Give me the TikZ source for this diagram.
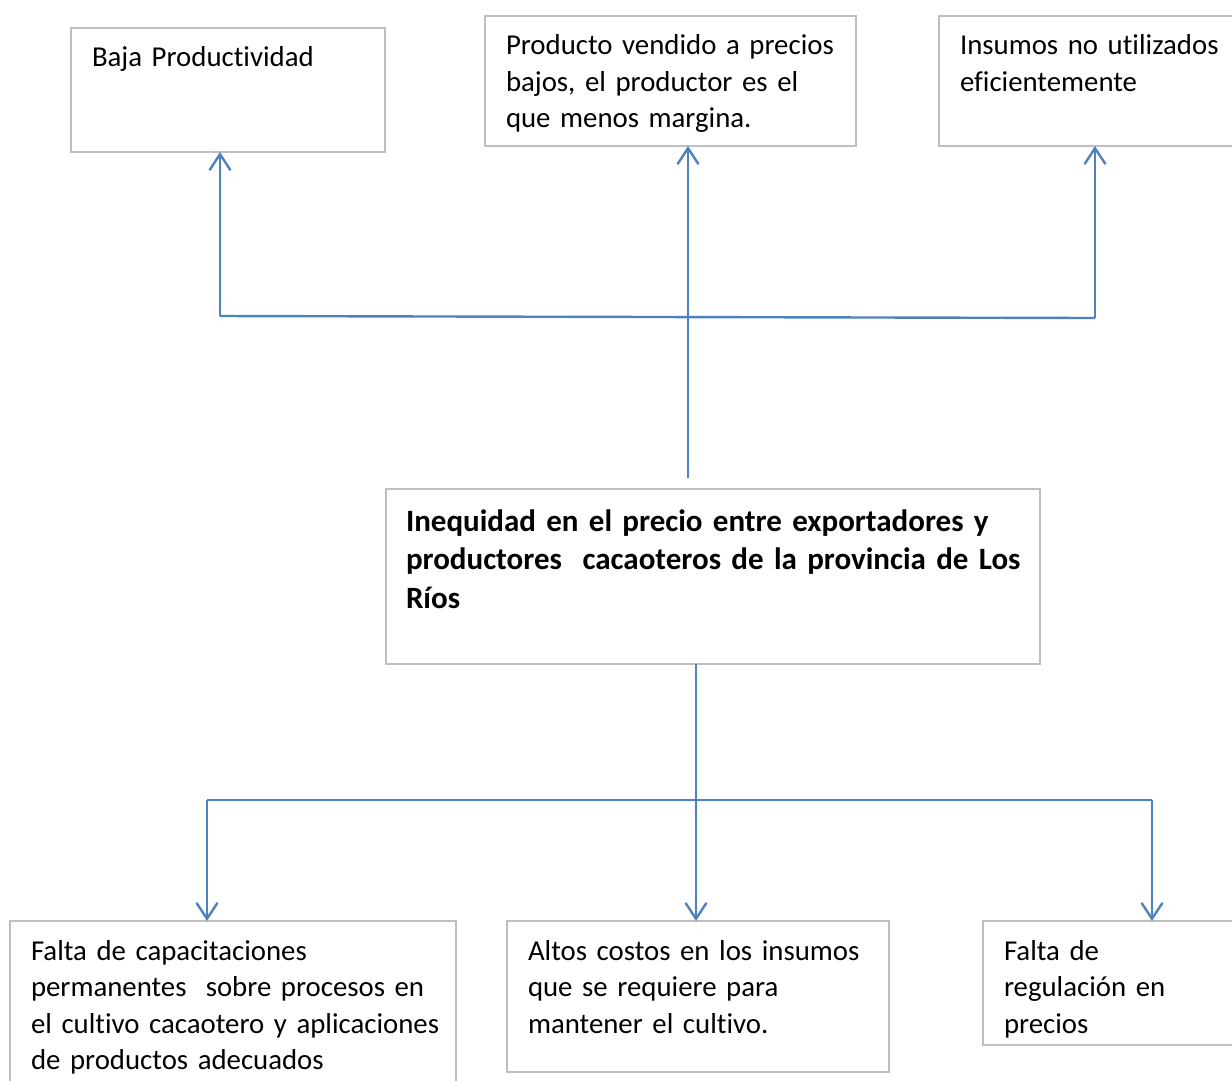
\documentclass[tikz,border=0pt]{standalone}
\usepackage{fontspec}
\setmainfont{Carlito}[Ligatures=NoCommon]
\usetikzlibrary{arrows.meta}
\definecolor{linkblue}{HTML}{4F81BD}
\definecolor{boxgray}{HTML}{BFBFBF}
\begin{document}
\begin{tikzpicture}[x=1pt,y=-1pt,
  box/.style={draw=boxgray,line width=1.8pt,rectangle,inner sep=0pt,outer sep=0pt,anchor=north west},
  txt/.style={anchor=base west,inner sep=0pt,outer sep=0pt,align=left,text width=640pt,
    font={\fontsize{28.8}{36.5}\selectfont}},
  btxt/.style={txt,font={\fontsize{31}{38.5}\selectfont\bfseries}},
  conn/.style={draw=linkblue,line width=2.4pt},
  arr/.style={conn,-{Straight Barb[length=16pt,width=21pt]}}]
\useasboundingbox (0,0) rectangle (1232,1080);
% boxes
\node[box,minimum width=314pt,minimum height=124pt] (b1) at (71,28) {};
\node[box,minimum width=371pt,minimum height=130pt] (b2) at (485,16) {};
\node[box,minimum width=310pt,minimum height=130pt] (b3) at (939,16) {};
\node[box,minimum width=654pt,minimum height=175pt] (c) at (386,489) {};
\node[box,minimum width=446pt,minimum height=170pt] (b5) at (10,921) {};
\node[box,minimum width=382pt,minimum height=151pt] (b6) at (507,921) {};
\node[box,minimum width=260pt,minimum height=124pt] (b7) at (983,921) {};
% texts
\node[txt] (t1) at ([xshift=21pt,yshift=-38.5pt]b1.north west) {Baja Productividad};
\node[txt] (t2) at ([xshift=21pt,yshift=-38.5pt]b2.north west) {Producto vendido a precios\\bajos, el productor es el\\que menos margina.};
\node[txt] (t3) at ([xshift=21pt,yshift=-38.5pt]b3.north west) {Insumos no utilizados\\eficientemente};
\node[btxt] (tc) at ([xshift=20pt,yshift=-42pt]c.north west) {Inequidad en el precio entre exportadores y\\productores\ \ cacaoteros de la provincia de Los\\Ríos};
\node[txt] (t5) at ([xshift=21pt,yshift=-39pt]b5.north west) {Falta de capacitaciones\\permanentes\ \ sobre procesos en\\el cultivo cacaotero y aplicaciones\\de productos adecuados};
\node[txt] (t6) at ([xshift=21pt,yshift=-39pt]b6.north west) {Altos costos en los insumos\\que se requiere para\\mantener el cultivo.};
\node[txt] (t7) at ([xshift=21pt,yshift=-39pt]b7.north west) {Falta de\\regulación en\\precios};
% junctions
\coordinate (jL) at (220,316);
\coordinate (jR) at (1095,318);
\coordinate (cTop) at (688,478);
\coordinate (jBL) at (207,800);
\coordinate (jM) at (696,800);
\coordinate (jBR) at (1152,800);
% top connectors
\draw[conn] (jL) -- (jR);
\draw[arr] (jL) -- (jL |- b1.south);
\draw[arr] (cTop) -- (cTop |- b2.south);
\draw[arr] (jR) -- (jR |- b3.south);
% bottom connectors
\draw[conn] (jBL) -- (jBR);
\draw[arr] (jM |- c.south) -- (jM |- b6.north);
\draw[arr] (jBL) -- (jBL |- b5.north);
\draw[arr] (jBR) -- (jBR |- b7.north);
\end{tikzpicture}
\end{document}
